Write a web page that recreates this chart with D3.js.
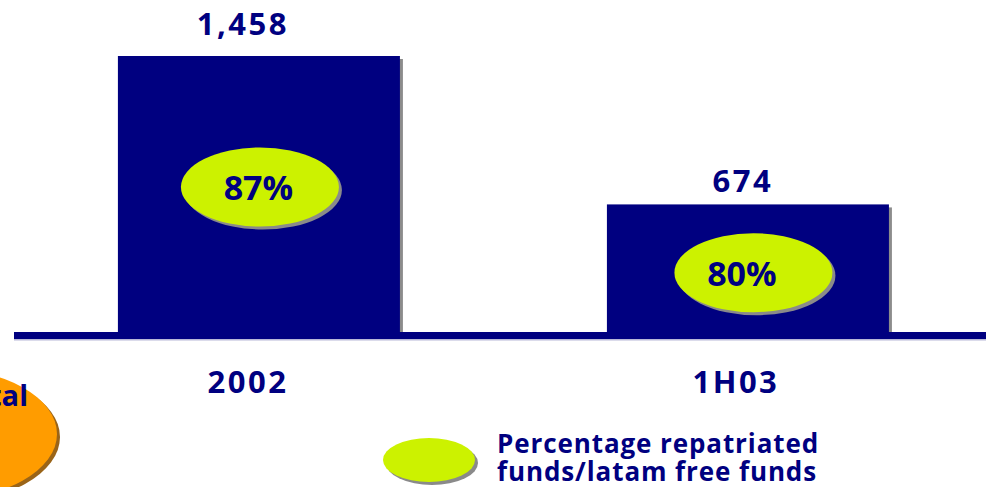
<!DOCTYPE html>
<html><head><meta charset="utf-8">
<script src="https://cdn.jsdelivr.net/npm/d3@7"></script>
<style>body{margin:0;background:#fff;} svg{display:block;} text{font-family:"Open Sans",sans-serif;font-weight:700;fill:#000080;}</style>
</head><body>
<svg id="c" width="986" height="487"></svg>
<script>
const categories = ["2002", "1H03"];
const values = [1458, 674];
const valueLabels = ["1,458", "674"];
const percentages = ["87%", "80%"];
const legendLines = ["Percentage repatriated", "funds/latam free funds"];
const sideLabel = "Total";

const W = 986, H = 487;
const svg = d3.select("#c");
const navy = "#000080", lime = "#ccf200", orange = "#ff9c00";

const x = d3.scaleBand().domain(categories).range([14, 986]).paddingInner(0.4233).paddingOuter(0.2055).align(0.517);
const y = d3.scaleLinear().domain([0, 1458]).range([332, 56]);

// per-bar label nudges (styling)
const labelDx = [-16, -5], labelDy = [-21, -12];
const ellDx = [1, 5.5], ellDy = [-7, 4.5], pctDx = [-2.5, -12.5];
const catDx = [-12, -13];

// orange ellipse (partially visible, left)
svg.append("ellipse").attr("cx", -58).attr("cy", 437).attr("rx", 118).attr("ry", 66).attr("fill", "#9a6418");
svg.append("ellipse").attr("cx", -61).attr("cy", 434).attr("rx", 118).attr("ry", 66).attr("fill", orange);
svg.append("text").attr("x", 28).attr("y", 406).attr("text-anchor", "end").attr("font-size", 29).text(sideLabel);

const g = svg.append("g");
const data = categories.map((c, i) => ({i, c, v: values[i], lab: valueLabels[i], p: percentages[i]}));
const cx = d => x(d.c) + x.bandwidth() / 2;

// bar shadows
g.selectAll(".bs").data(data).join("rect")
  .attr("x", d => x(d.c) + 3).attr("y", d => y(d.v) + 3)
  .attr("width", x.bandwidth()).attr("height", d => y(0) - y(d.v))
  .attr("fill", "#8c8c8c");
g.selectAll(".b").data(data).join("rect")
  .attr("x", d => x(d.c)).attr("y", d => y(d.v))
  .attr("width", x.bandwidth()).attr("height", d => y(0) - y(d.v) + 1)
  .attr("fill", navy);

// axis band
svg.append("rect").attr("x", 14).attr("y", y(0)).attr("width", W - 14).attr("height", 7).attr("fill", navy);
svg.append("rect").attr("x", 14).attr("y", y(0) + 7).attr("width", W - 14).attr("height", 1.5).attr("fill", "#b8b8d8");

// value labels
g.selectAll(".vl").data(data).join("text")
  .attr("x", d => cx(d) + labelDx[d.i]).attr("y", d => y(d.v) + labelDy[d.i])
  .attr("text-anchor", "middle").attr("font-size", 31).attr("letter-spacing", 2.5).text(d => d.lab);

// ellipses with percentages
const ecx = d => cx(d) + ellDx[d.i];
const ecy = d => (y(d.v) + y(0)) / 2 + ellDy[d.i];
g.selectAll(".es").data(data).join("ellipse")
  .attr("cx", d => ecx(d) + 3).attr("cy", d => ecy(d) + 3)
  .attr("rx", 79).attr("ry", 39.5).attr("fill", "#8a8a8a");
g.selectAll(".e").data(data).join("ellipse")
  .attr("cx", ecx).attr("cy", ecy)
  .attr("rx", 79).attr("ry", 39.5).attr("fill", lime);
g.selectAll(".pt").data(data).join("text")
  .attr("x", d => ecx(d) + pctDx[d.i] + 1).attr("y", d => ecy(d) + 13)
  .attr("text-anchor", "middle").attr("font-size", 34).text(d => d.p);

// category labels
g.selectAll(".cl").data(data).join("text")
  .attr("x", d => cx(d) + catDx[d.i] + 1).attr("y", 393)
  .attr("text-anchor", "middle").attr("font-size", 31).attr("letter-spacing", 2.5).text(d => d.c);

// legend
svg.append("ellipse").attr("cx", 432).attr("cy", 463).attr("rx", 46).attr("ry", 22).attr("fill", "#8a8a8a");
svg.append("ellipse").attr("cx", 429).attr("cy", 460).attr("rx", 46).attr("ry", 22).attr("fill", lime);
svg.append("text").attr("x", 497).attr("y", 453).attr("font-size", 26).attr("letter-spacing", 0.9).text(legendLines[0]);
svg.append("text").attr("x", 497).attr("y", 481).attr("font-size", 26).attr("letter-spacing", 0.9).text(legendLines[1]);
</script>
</body></html>
